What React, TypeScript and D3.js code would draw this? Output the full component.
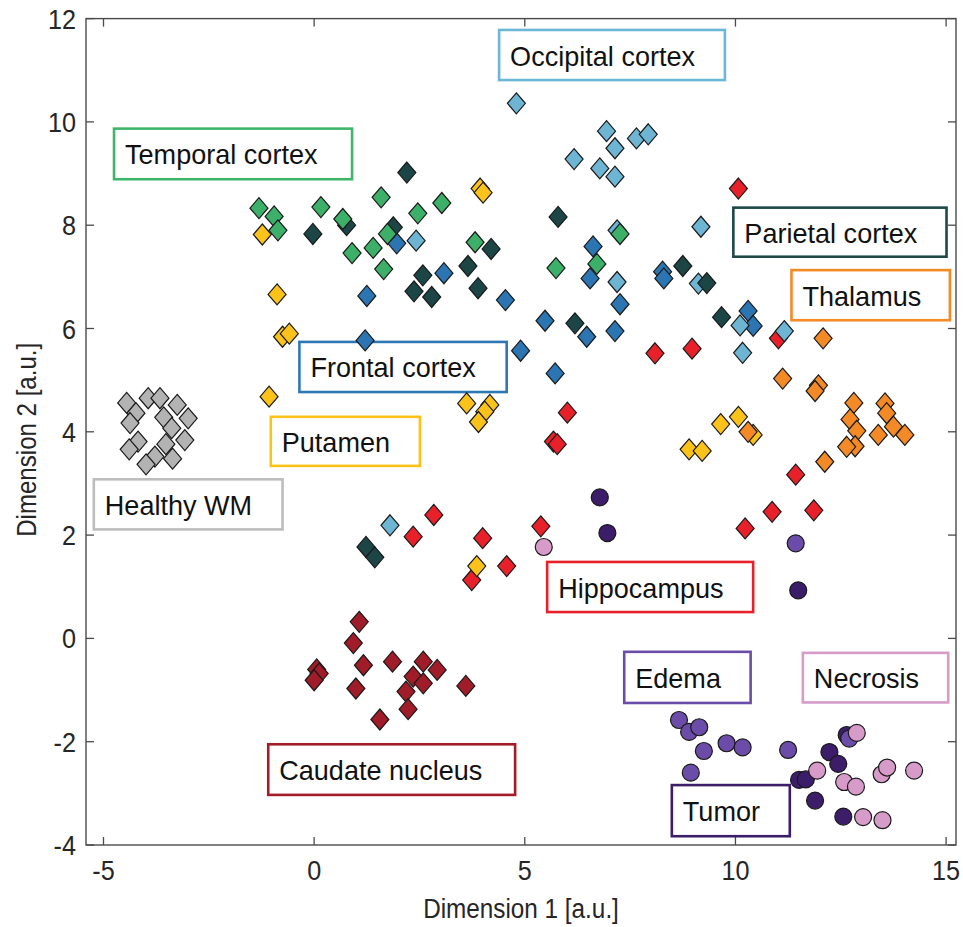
import React from "react";
import * as d3 from "d3";

const xTicks = [-5, 0, 5, 10, 15];
const yTicks = [-4, -2, 0, 2, 4, 6, 8, 10, 12];

const healthyWM: [number, number][] = [
  [-4.45, 4.56], [-3.94, 4.65], [-3.66, 4.65], [-3.25, 4.52], [-4.23, 4.36], [-4.37, 4.17],
  [-3.57, 4.28], [-2.99, 4.26], [-3.38, 4.07], [-4.18, 3.81], [-4.39, 3.66], [-3.07, 3.84],
  [-3.52, 3.76], [-3.78, 3.52], [-3.99, 3.37], [-3.36, 3.48],
];
const caudate: [number, number][] = [
  [1.07, 0.32], [0.93, -0.09], [1.17, -0.52], [0.99, -0.97], [1.56, -1.57], [0.06, -0.6],
  [0.12, -0.68], [0.0, -0.81], [1.86, -0.45], [2.59, -0.45], [2.92, -0.61], [2.35, -0.74],
  [2.59, -0.87], [2.18, -1.03], [3.6, -0.92], [2.23, -1.37],
];
const hippocampus: [number, number][] = [
  [10.07, 8.71], [8.09, 5.52], [8.97, 5.61], [11.02, 5.81], [6.01, 4.37], [5.68, 3.81],
  [5.77, 3.76], [5.38, 2.17], [2.84, 2.39], [2.35, 1.97], [4.0, 1.94], [4.57, 1.4],
  [3.74, 1.13], [11.43, 3.17], [10.87, 2.45], [11.86, 2.48], [10.23, 2.13],
];
const putamen: [number, number][] = [
  [-1.23, 7.82], [-0.88, 6.66], [-0.75, 5.84], [-0.59, 5.9], [-1.07, 4.68], [3.94, 8.71],
  [4.01, 8.63], [3.62, 4.55], [4.17, 4.52], [4.05, 4.39], [3.9, 4.19], [3.86, 1.4],
  [9.65, 4.15], [10.07, 4.29], [10.42, 3.94], [8.9, 3.66], [9.21, 3.63],
];
const thalamus: [number, number][] = [
  [12.08, 5.81], [11.12, 5.03], [11.97, 4.9], [11.89, 4.79], [12.81, 4.56], [13.55, 4.55],
  [13.59, 4.36], [12.72, 4.24], [12.88, 4.02], [13.75, 4.1], [13.39, 3.94], [14.02, 3.94],
  [12.84, 3.72], [12.64, 3.71], [12.12, 3.42], [10.3, 4.0],
];
const frontal: [number, number][] = [
  [1.25, 6.63], [1.21, 5.77], [1.96, 7.65], [3.08, 7.07], [4.54, 6.55], [6.62, 7.59],
  [6.55, 6.97], [8.27, 7.1], [8.3, 6.97], [7.26, 6.47], [5.48, 6.15], [6.47, 5.84],
  [7.14, 5.95], [4.9, 5.57], [5.72, 5.13], [10.3, 6.34], [10.42, 6.05],
];
const occipital: [number, number][] = [
  [4.8, 10.36], [6.94, 9.82], [7.14, 9.49], [7.65, 9.68], [7.93, 9.76], [6.17, 9.28],
  [6.78, 9.1], [7.14, 8.94], [2.42, 7.7], [7.19, 7.9], [7.19, 6.9], [9.18, 7.97],
  [9.12, 6.87], [10.11, 6.06], [11.16, 5.95], [10.17, 5.53], [1.8, 2.19],
];
const parietal: [number, number][] = [
  [-0.03, 7.83], [0.77, 8.0], [1.88, 7.96], [2.2, 9.02], [4.2, 7.54], [5.79, 8.16],
  [8.75, 7.21], [2.58, 7.03], [3.65, 7.21], [3.89, 6.78], [2.37, 6.72], [2.79, 6.61],
  [6.19, 6.1], [9.67, 6.22], [9.32, 6.88], [1.23, 1.77], [1.44, 1.57],
];
const temporal: [number, number][] = [
  [-1.31, 8.33], [-0.95, 8.17], [-0.86, 7.9], [0.16, 8.35], [0.68, 8.12], [1.59, 8.54],
  [0.9, 7.46], [1.4, 7.56], [1.65, 7.15], [1.74, 7.83], [2.46, 8.23], [3.03, 8.43],
  [3.82, 7.67], [5.74, 7.17], [6.71, 7.25], [7.26, 7.83],
];
const tumor: [number, number][] = [
  [6.78, 2.73], [6.96, 2.04], [11.49, 0.93], [12.23, -2.2], [12.44, -2.43], [12.64, -1.87],
  [11.51, -2.74], [11.67, -2.73], [11.89, -3.14], [12.56, -3.45],
];
const edema: [number, number][] = [
  [8.66, -1.58], [8.9, -1.81], [9.14, -1.72], [9.25, -2.18], [9.79, -2.03], [10.17, -2.11],
  [11.25, -2.16], [8.94, -2.6], [12.7, -1.94], [11.43, 1.84],
];
const necrosis: [number, number][] = [
  [5.45, 1.77], [12.88, -1.83], [11.94, -2.56], [12.58, -2.78], [12.86, -2.87], [13.47, -2.63],
  [13.6, -2.5], [14.24, -2.56], [13.03, -3.46], [13.49, -3.52],
];

const C = {
  gray: "#b3b3b3",
  darkRed: "#a01c28",
  red: "#e8202a",
  yellow: "#fbc31a",
  orange: "#f48a26",
  blue: "#2a75b2",
  lightBlue: "#6db5d3",
  darkTeal: "#1c4646",
  green: "#3cb068",
  tumor: "#3b1d69",
  edema: "#6b4ca8",
  necrosis: "#d69bc9",
};

const groups = [
  { pts: healthyWM, color: C.gray, shape: "d" },
  { pts: caudate, color: C.darkRed, shape: "d" },
  { pts: hippocampus, color: C.red, shape: "d" },
  { pts: putamen, color: C.yellow, shape: "d" },
  { pts: thalamus, color: C.orange, shape: "d" },
  { pts: frontal, color: C.blue, shape: "d" },
  { pts: occipital, color: C.lightBlue, shape: "d" },
  { pts: parietal, color: C.darkTeal, shape: "d" },
  { pts: temporal, color: C.green, shape: "d" },
  { pts: tumor, color: C.tumor, shape: "c" },
  { pts: edema, color: C.edema, shape: "c" },
  { pts: necrosis, color: C.necrosis, shape: "c" },
];

const labelNames = ["Occipital cortex", "Temporal cortex", "Parietal cortex", "Thalamus", "Frontal cortex", "Putamen", "Healthy WM", "Hippocampus", "Edema", "Necrosis", "Caudate nucleus", "Tumor"];
const labelColors = ["#6cb7d5", "#3fb46b", "#1e4848", "#f48a26", "#2f77b3", "#fbc31a", "#bdbdbd", "#e8202a", "#6b4ca8", "#d69bc9", "#a31c28", "#3b1d69"];
const labelX0 = [4.39, -4.75, 9.95, 11.33, -0.35, -1.03, -5.23, 5.53, 7.36, 11.6, -1.09, 8.49];
const labelX1 = [9.75, 0.9, 15.01, 15.09, 4.57, 2.51, -0.75, 10.42, 10.36, 15.05, 4.77, 11.29];
const labelYTop = [11.78, 9.87, 8.34, 7.13, 5.74, 4.29, 3.08, 1.48, -0.26, -0.28, -2.05, -2.84];
const labelYBot = [10.81, 8.89, 7.39, 6.16, 4.77, 3.34, 2.11, 0.51, -1.25, -1.24, -3.03, -3.83];

const W = 963;
const H = 927;
const FONT = "'Liberation Sans', Arial, Helvetica, sans-serif";

export default function App() {
  const x = d3.scaleLinear().domain([-5, 15]).range([103.5, 946.1]);
  const y = d3.scaleLinear().domain([-4, 12]).range([845, 18.6]);
  const left = 86, right = 956, top = y(12), bottom = y(-4);
  const tickLen = 8;
  const hw = 9, hh = 10.5, r = 8.5;
  const diamond = (cx: number, cy: number) =>
    `M${cx},${cy - hh}L${cx + hw},${cy}L${cx},${cy + hh}L${cx - hw},${cy}Z`;

  return (
    <svg width={W} height={H} style={{ position: "absolute", left: 0, top: 0, background: "#fff" }} fontFamily={FONT}>
      <rect x={0} y={0} width={W} height={H} fill="#fff" />
      {/* frame */}
      <rect x={left} y={top} width={right - left} height={bottom - top} fill="none" stroke="#4a4a4a" strokeWidth={1.4} />
      {xTicks.map((t) => (
        <g key={"xt" + t}>
          <line x1={x(t)} x2={x(t)} y1={bottom} y2={bottom - tickLen} stroke="#4a4a4a" strokeWidth={1.3} />
          <line x1={x(t)} x2={x(t)} y1={top} y2={top + tickLen} stroke="#4a4a4a" strokeWidth={1.3} />
          <g transform={`translate(${x(t)},${bottom + 35}) scale(0.9,1)`}>
            <text textAnchor="middle" fontSize={28} fill="#262626">{t}</text>
          </g>
        </g>
      ))}
      {yTicks.map((t) => (
        <g key={"yt" + t}>
          <line x1={left} x2={left + tickLen} y1={y(t)} y2={y(t)} stroke="#4a4a4a" strokeWidth={1.3} />
          <line x1={right} x2={right - tickLen} y1={y(t)} y2={y(t)} stroke="#4a4a4a" strokeWidth={1.3} />
          <g transform={`translate(76,${y(t) + 10}) scale(0.9,1)`}>
            <text textAnchor="end" fontSize={28} fill="#262626">{t}</text>
          </g>
        </g>
      ))}
      <g transform={`translate(${(left + right) / 2},918) scale(0.9,1)`}>
        <text textAnchor="middle" fontSize={27} fill="#262626">Dimension 1 [a.u.]</text>
      </g>
      <g transform={`translate(36,${(top + bottom) / 2 + 8}) rotate(-90) scale(0.86,1)`}>
        <text textAnchor="middle" fontSize={28} fill="#262626">Dimension 2 [a.u.]</text>
      </g>
      {/* annotation boxes */}
      {labelNames.map((n, i) => {
        const bx = x(labelX0[i]);
        const bw = x(labelX1[i]) - bx;
        const by = y(labelYTop[i]);
        const bh = y(labelYBot[i]) - by;
        return (
          <g key={"l" + i}>
            <rect x={bx} y={by} width={bw} height={bh} fill="#fff" stroke={labelColors[i]} strokeWidth={2.6} />
            <g transform={`translate(${bx + 11},${by + bh / 2 + 10.5}) scale(0.95,1)`}>
              <text fontSize={28.5} fill="#111">{n}</text>
            </g>
          </g>
        );
      })}
      {/* markers */}
      {groups.map((g, gi) => (
        <g key={"g" + gi}>
          {g.pts.map((p, i) =>
            g.shape === "d" ? (
              <path key={i} d={diamond(x(p[0]), y(p[1]))} fill={g.color} stroke="#1a1a1a" strokeWidth={1.2} />
            ) : (
              <circle key={i} cx={x(p[0])} cy={y(p[1])} r={r} fill={g.color} stroke="#1a1a1a" strokeWidth={1.2} />
            )
          )}
        </g>
      ))}
    </svg>
  );
}
